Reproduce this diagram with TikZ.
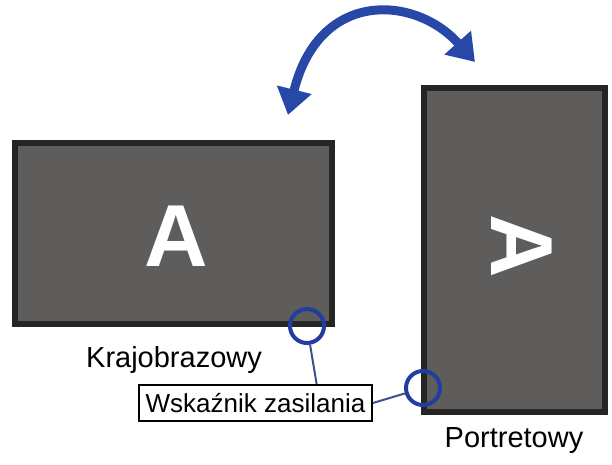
\documentclass[tikz,border=0pt]{standalone}
\usepackage{fontspec}
\setmainfont{Liberation Sans}
\usepackage{tikz}
\usetikzlibrary{arrows.meta, positioning, calc}
\definecolor{screengray}{HTML}{5F5C5C}
\definecolor{framegray}{HTML}{262525}
\definecolor{turnblue}{HTML}{2848A8}
\definecolor{ledblue}{HTML}{233CA0}
\definecolor{leadblue}{HTML}{3C5090}

\begin{document}
\begin{tikzpicture}[x=1pt, y=1pt,
        screen/.style={draw=framegray, fill=screengray, line width=6pt, inner sep=0pt},
        letter/.style={text=white, inner sep=0pt, font=\fontsize{88}{88}\selectfont\bfseries},
        caption/.style={anchor=base, inner sep=0pt, font=\fontsize{29}{33}\selectfont},
        led/.style={circle, draw=ledblue, line width=4pt, minimum size=34pt, inner sep=0pt},
        lead/.style={draw=leadblue, line width=2pt}]
        \path[use as bounding box] (0, 0) rectangle (612, 465);
        % the two screens
        \node[screen, minimum width=317pt, minimum height=181pt] (landscape) at (173.5, 231.5) {};
        \node[screen, minimum width=181pt, minimum height=324pt] (portrait) at (514.5, 215) {};
        \node[letter] (landA) at (176, 228.5) {A};
        \node[letter, rotate=-90] (portA) at (521.5, 219) {A};
        % turning arrow
        \draw[turnblue, line width=9pt, {Triangle[length=26pt, width=34pt]}-{Triangle[length=26pt, width=34pt]}]
            (288, 350) .. controls (319, 476) and (415, 470) .. (475, 403);
        % power indicators
        \node[led] (ledland) at (307, 139) {};
        \node[led] (ledport) at (423, 77) {};
        \node[draw, line width=2pt, minimum width=233pt, minimum height=36pt, inner sep=0pt,
            text height=20pt, text depth=0pt, font=\fontsize{26}{30}\selectfont] (power) at (255.5, 62) {Wskaźnik zasilania};
        \draw[lead] (ledland) -- ($(power.north west)!0.76!(power.north east)$);
        \draw[lead] (power.east) -- (ledport);
        \node[caption] (landname) at (174, 97) {Krajobrazowy};
        \node[caption] (portname) at (514, 17) {Portretowy};
    \end{tikzpicture}
\end{document}
